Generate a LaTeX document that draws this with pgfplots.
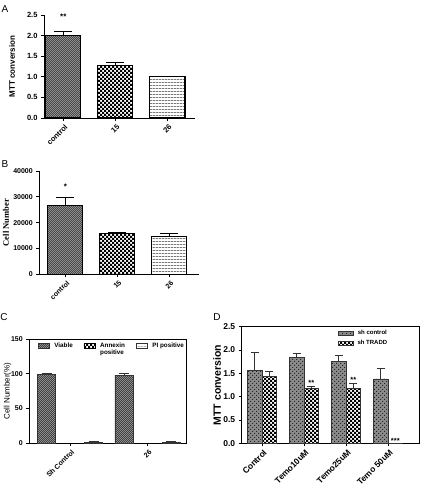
\documentclass[border=0pt]{standalone}
\usepackage{pgfplots}
\pgfplotsset{compat=1.18}
\usepackage{fontspec}
\setmainfont{Liberation Sans}
\newfontfamily\seriffont{Liberation Serif}
\usetikzlibrary{patterns}

\pgfdeclarepatternformonly{finechecker}{\pgfqpoint{-.05pt}{-.05pt}}{\pgfqpoint{2.05pt}{2.05pt}}{\pgfqpoint{2pt}{2pt}}{%
  \pgfpathrectangle{\pgfqpoint{0pt}{0pt}}{\pgfqpoint{1.05pt}{1.05pt}}%
  \pgfpathrectangle{\pgfqpoint{1pt}{1pt}}{\pgfqpoint{1.05pt}{1.05pt}}%
  \pgfusepath{fill}}
\pgfdeclarepatternformonly{checker}{\pgfqpoint{-.05pt}{-.05pt}}{\pgfqpoint{4.05pt}{4.05pt}}{\pgfqpoint{4pt}{4pt}}{%
  \pgfpathrectangle{\pgfqpoint{0pt}{0pt}}{\pgfqpoint{2.05pt}{2.05pt}}%
  \pgfpathrectangle{\pgfqpoint{2pt}{2pt}}{\pgfqpoint{2.05pt}{2.05pt}}%
  \pgfusepath{fill}}
\pgfdeclarepatternformonly{hlines}{\pgfqpoint{0pt}{0pt}}{\pgfqpoint{3pt}{3pt}}{\pgfqpoint{3pt}{3pt}}{%
  \pgfpathrectangle{\pgfqpoint{0pt}{0pt}}{\pgfqpoint{3pt}{0.8pt}}%
  \pgfusepath{fill}}
\pgfdeclarepatternformonly{dotchecker}{\pgfqpoint{-.05pt}{-.05pt}}{\pgfqpoint{4.05pt}{4.05pt}}{\pgfqpoint{4pt}{4pt}}{%
  \pgfpathrectangle{\pgfqpoint{0pt}{0pt}}{\pgfqpoint{1.05pt}{1.05pt}}%
  \pgfpathrectangle{\pgfqpoint{2pt}{2pt}}{\pgfqpoint{1.05pt}{1.05pt}}%
  \pgfusepath{fill}}

\pgfplotsset{
  panel/.style={
    scale only axis, ybar, clip=false, enlargelimits=false,
    anchor=south west,
    tick align=outside,
    axis line style={line width=0.9pt,-},
    major tick style={line width=0.9pt, black},
    major tick length=3pt,
    minor tick num=0,
    /pgf/number format/assume math mode=true,
    scaled y ticks=false,
    xticklabel style={rotate=45, anchor=north east, inner sep=1pt, yshift=-1.5pt},
  },
  graybar/.style={draw=black, preaction={fill=black!35}, pattern=finechecker, pattern color=black!72},
  checkbar/.style={draw=black, preaction={fill=white}, pattern=checker, pattern color=black},
  linebar/.style={draw=black, preaction={fill=white}, pattern=hlines, pattern color=black!80},
}

\begin{document}
\begin{tikzpicture}
\useasboundingbox (0,0) rectangle (421pt,488pt);

% ---------------- Panel A ----------------
\node[font=\fontsize{10}{10}\selectfont] at (5pt,479pt) {A};
\begin{axis}[panel,
  at={(44pt,370pt)}, width=151pt, height=103pt,
  xmin=-0.37, xmax=2.53, ymin=0, ymax=2.5,
  axis x line*=bottom, axis y line*=left,
  xtick={0,1,2}, xticklabels={control,15,26},
  ytick={0,0.5,1,1.5,2,2.5},
  yticklabel style={/pgf/number format/.cd,fixed,fixed zerofill,precision=1},
  tick label style={font=\bfseries\fontsize{7.5}{8}\selectfont},
  ylabel={MTT conversion},
  ylabel style={at={(axis description cs:-0.212,0.5)}, anchor=center, font=\bfseries\fontsize{8}{9}\selectfont},
  bar width=35pt,
  every axis plot/.append style={line width=1.2pt},
]
\addplot[graybar, bar shift=0pt, error bars/.cd, y dir=plus, y explicit, error bar style={line width=1.1pt, black}, error mark options={rotate=90, mark size=9pt, line width=1.1pt, black}]
  coordinates {(0,2.00) +- (0,0.11)};
\addplot[checkbar, bar shift=0pt, error bars/.cd, y dir=plus, y explicit, error bar style={line width=1.1pt, black}, error mark options={rotate=90, mark size=9pt, line width=1.1pt, black}]
  coordinates {(1,1.28) +- (0,0.06)};
\addplot[linebar, bar shift=0pt, error bars/.cd, y dir=plus, y explicit, error bar style={line width=1.1pt, black}, error mark options={rotate=90, mark size=9pt, line width=1.1pt, black}]
  coordinates {(2,1.00) +- (0,0.01)};
\node[font=\bfseries\fontsize{8}{8}\selectfont] at (axis cs:0,2.46) {**};
\end{axis}

% ---------------- Panel B ----------------
\node[font=\fontsize{10}{10}\selectfont] at (5pt,324pt) {B};
\begin{axis}[panel,
  at={(39.3pt,213.7pt)}, width=159.7pt, height=103.3pt,
  xmin=-0.5, xmax=2.57, ymin=0, ymax=40000,
  axis x line*=bottom, axis y line*=left,
  xtick={0,1,2}, xticklabels={control,15,26},
  ytick={0,10000,20000,30000,40000},
  yticklabel style={/pgf/number format/.cd,fixed,1000 sep={}},
  tick label style={font=\bfseries\fontsize{7}{8}\selectfont},
  ylabel={Cell Number},
  ylabel style={at={(axis description cs:-0.2085,0.5)}, anchor=center, font=\seriffont\bfseries\fontsize{8.5}{9}\selectfont},
  bar width=35pt,
  every axis plot/.append style={line width=1.2pt},
]
\addplot[graybar, bar shift=0pt, error bars/.cd, y dir=plus, y explicit, error bar style={line width=1.1pt, black}, error mark options={rotate=90, mark size=9pt, line width=1.1pt, black}]
  coordinates {(0,26500) +- (0,3400)};
\addplot[checkbar, bar shift=0pt, error bars/.cd, y dir=plus, y explicit, error bar style={line width=1.1pt, black}, error mark options={rotate=90, mark size=9pt, line width=1.1pt, black}]
  coordinates {(1,15900) +- (0,300)};
\addplot[linebar, bar shift=0pt, error bars/.cd, y dir=plus, y explicit, error bar style={line width=1.1pt, black}, error mark options={rotate=90, mark size=9pt, line width=1.1pt, black}]
  coordinates {(2,14600) +- (0,1200)};
\node[font=\bfseries\fontsize{8}{8}\selectfont] at (axis cs:0,34000) {*};
\end{axis}

% ---------------- Panel C ----------------
\node[font=\fontsize{10}{10}\selectfont] at (4pt,171pt) {C};
\begin{axis}[panel,
  at={(29.3pt,44.7pt)}, width=157.4pt, height=104.3pt,
  xmin=-0.524, xmax=1.502, ymin=0, ymax=150,
  tick pos=left,
  xtick={0,1}, xticklabels={Sh Control,26},
  ytick={0,50,100,150},
  tick label style={font=\bfseries\fontsize{7}{8}\selectfont},
  ylabel={Cell Number(\%)},
  ylabel style={at={(axis description cs:-0.1385,0.5)}, anchor=center, font=\fontsize{8}{9}\selectfont},
  bar width=18.5pt,
  every axis plot/.append style={line width=0.8pt},
  legend style={at={(axis description cs:0.525,0.995)}, anchor=north, draw=none, fill=none,
    font=\bfseries\fontsize{6.3}{7}\selectfont, legend columns=3,
    /tikz/every even column/.append style={column sep=9pt},
    /tikz/every odd column/.append style={column sep=3pt}, inner sep=1pt},
  legend image code/.code={\draw[#1, line width=0.4pt] (0pt,-2pt) rectangle (11pt,2.5pt);},
]
\addplot[draw=black!80, preaction={fill=black!35}, pattern=finechecker, pattern color=black!75, bar shift=-23.5pt, error bars/.cd, y dir=plus, y explicit, error bar style={line width=0.8pt, black!80}, error mark options={rotate=90, mark size=5pt, line width=0.8pt, black!80}]
  coordinates {(0,98.5) +- (0,2) (1,98) +- (0,2.5)};
\addlegendentry{Viable}
\addplot[checkbar, bar shift=0pt, error bars/.cd, y dir=plus, y explicit, error bar style={line width=0.8pt, black}, error mark options={rotate=90, mark size=5pt, line width=0.8pt, black}]
  coordinates {(0,0) +- (0,0) (1,0) +- (0,0)};
\addlegendentry{\begin{tabular}[t]{@{}l@{}}Annexin\\positive\end{tabular}}
\addplot[draw=black!80, preaction={fill=white}, pattern=hlines, pattern color=black!45, bar shift=23.5pt, error bars/.cd, y dir=plus, y explicit, error bar style={line width=0.8pt, black!80}, error mark options={rotate=90, mark size=5pt, line width=0.8pt, black!80}]
  coordinates {(0,2) +- (0,1) (1,2) +- (0,1)};
\addlegendentry{PI positive}
\end{axis}

% ---------------- Panel D ----------------
\node[font=\fontsize{10}{10}\selectfont] at (217pt,171pt) {D};
\begin{axis}[panel,
  at={(241.7pt,44.7pt)}, width=177.6pt, height=116.6pt,
  xmin=-0.483, xmax=3.745, ymin=0, ymax=2.5,
  tick pos=left,
  xtick={0,1,2,3}, xticklabels={Control,Temo10uM,Temo25uM,Temo 50uM},
  ytick={0,0.5,1,1.5,2,2.5},
  yticklabel style={/pgf/number format/.cd,fixed,fixed zerofill,precision=1},
  tick label style={font=\bfseries\fontsize{8.5}{9}\selectfont},
  ylabel={MTT conversion},
  ylabel style={at={(axis description cs:-0.139,0.5)}, anchor=center, font=\bfseries\fontsize{10.5}{11}\selectfont},
  bar width=14.5pt,
  every axis plot/.append style={line width=0.6pt},
  legend style={at={(axis description cs:0.542,0.985)}, anchor=north west, draw=none, fill=none,
    font=\bfseries\fontsize{6}{6.5}\selectfont, inner sep=0pt, row sep=0pt,
    /tikz/every odd column/.append style={column sep=2pt}},
  legend image code/.code={\draw[#1, line width=0.4pt] (0pt,-1.8pt) rectangle (15pt,2.2pt);},
]
\addplot[draw=black!80, preaction={fill=black!45}, pattern=dotchecker, pattern color=black!85, bar shift=-7.3pt, error bars/.cd, y dir=plus, y explicit, error bar style={line width=0.6pt, black!80}, error mark options={rotate=90, mark size=4pt, line width=0.6pt, black!80}]
  coordinates {(0,1.57) +- (0,0.38) (1,1.84) +- (0,0.10) (2,1.76) +- (0,0.13) (3,1.38) +- (0,0.23)};
\addlegendentry{sh control}
\addplot[draw=black!80, preaction={fill=white}, pattern=checker, pattern color=black, bar shift=7.3pt, error bars/.cd, y dir=plus, y explicit, error bar style={line width=0.6pt, black!80}, error mark options={rotate=90, mark size=4pt, line width=0.6pt, black!80}]
  coordinates {(0,1.43) +- (0,0.12) (1,1.18) +- (0,0.05) (2,1.18) +- (0,0.11) (3,0) +- (0,0)};
\addlegendentry{sh TRADD}
\node[font=\bfseries\fontsize{7.5}{8}\selectfont] at (axis cs:1.174,1.30) {**};
\node[font=\bfseries\fontsize{7.5}{8}\selectfont] at (axis cs:2.174,1.36) {**};
\node[font=\bfseries\fontsize{7.5}{8}\selectfont] at (axis cs:3.174,0.06) {***};
\end{axis}
\end{tikzpicture}
\end{document}
